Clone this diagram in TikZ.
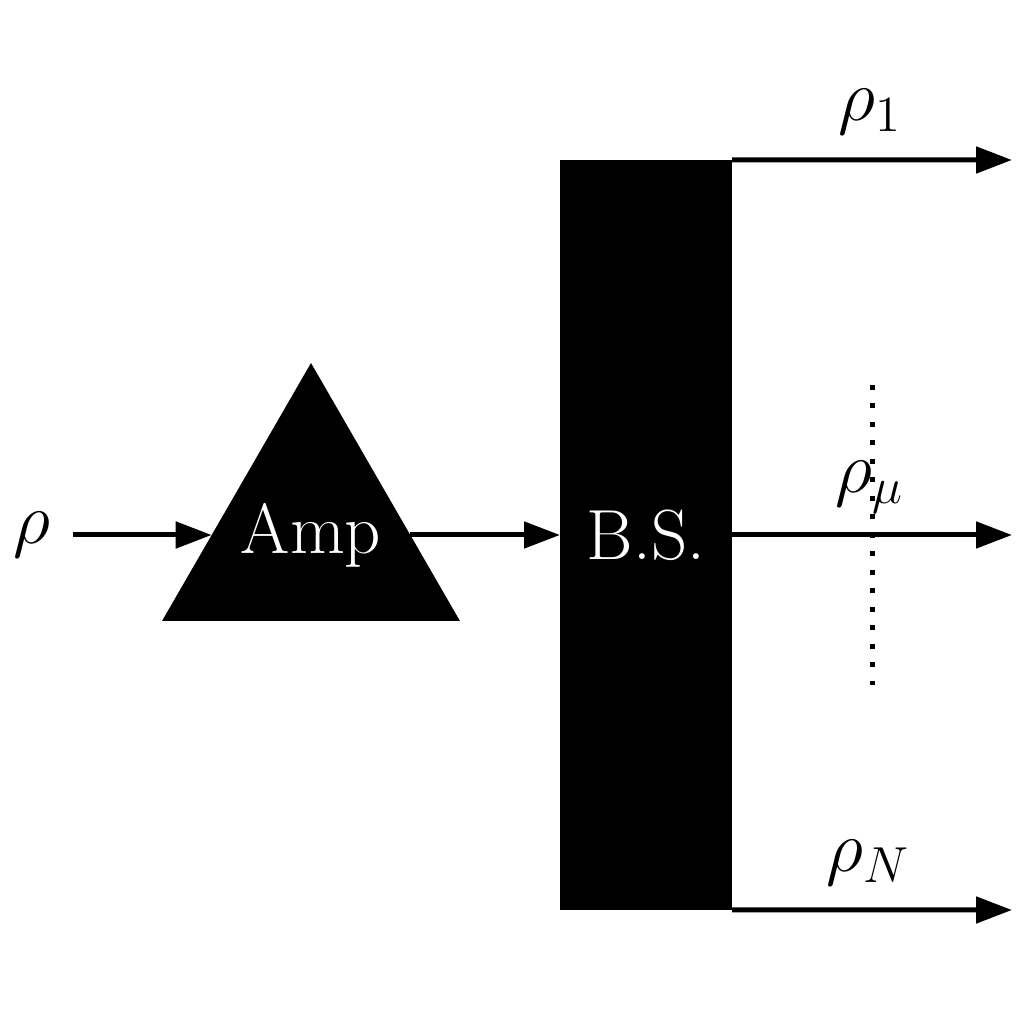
\documentclass[tikz,border=0pt]{standalone}
\usetikzlibrary{shapes.geometric,arrows.meta}
\tikzset{
  conn/.style={line width=0.05cm,-{Triangle[length=0.36cm,width=0.26cm]}},
  lab/.style={font=\fontsize{20.2}{24}\selectfont},
  blk/.style={fill=black,text=white,font=\fontsize{20.2}{24}\selectfont,inner sep=0pt,outer sep=0pt},
}
\begin{document}
\begin{tikzpicture}
\useasboundingbox (0,0) rectangle (10.24,10.24);
\node[lab] (rho) at (0.32,4.89) {$\rho$};
\node[blk,regular polygon,regular polygon sides=3,minimum size=3.44cm] (amp) at (3.11,4.89) {};
\node[lab,text=white] at (amp.center) {Amp};
\node[blk,rectangle,minimum width=1.72cm,minimum height=7.5cm] (bs) at (6.46,4.89) {B.S.};
\coordinate (e1) at (10.12,8.64);
\coordinate (e2) at (10.12,4.89);
\coordinate (e3) at (10.12,1.14);
\coordinate (s0) at (0.73,4.89);
\draw[conn] (s0) -- (amp);
\draw[conn] (amp) -- (bs);
\draw[conn] (bs.north east) -- (e1);
\draw[conn] (bs.east) -- (e2);
\draw[conn] (bs.south east) -- (e3);
\node[lab] (r1) at (8.70,9.12) {$\rho_1$};
\node[lab] (rmu) at (8.70,5.37) {$\rho_\mu$};
\node[lab] (rN) at (8.68,1.61) {$\rho_N$};
\coordinate (d1) at (8.72,6.39);
\coordinate (d2) at (8.72,3.39);
\draw[line width=0.05cm,dash pattern=on 0.05cm off 0.135cm] (d1) -- (d2);
\end{tikzpicture}
\end{document}
